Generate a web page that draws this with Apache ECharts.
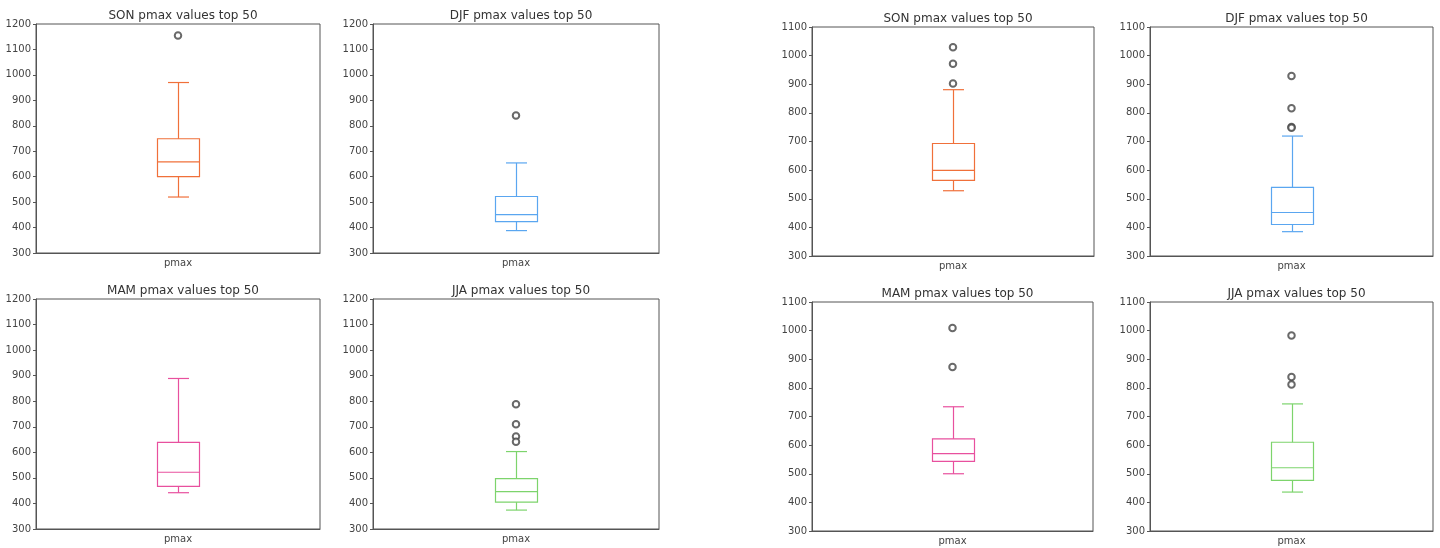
<!DOCTYPE html>
<html>
<head>
<meta charset="utf-8">
<script src="https://cdn.jsdelivr.net/npm/echarts@6/dist/echarts.min.js"></script>
<style>
  html, body { margin: 0; padding: 0; background: #fff; }
  #main { width: 1440px; height: 548px; }
</style>
</head>
<body>
<div id="main"></div>
<script>
// categories and tick settings
var category = ['pmax'];
var yMin = 300;
var yMaxLeft = 1200;
var yMaxRight = 1100;
var yStep = 100;

// box stats: [low whisker, Q1, median, Q3, high whisker]
var sonLeftBox = [520, 600, 658, 749, 970];
var djfLeftBox = [388, 423, 451, 522, 654];
var mamLeftBox = [442, 467, 522, 639, 889];
var jjaLeftBox = [374, 405, 446, 497, 603];
var sonRightBox = [528, 564, 599, 693, 881];
var djfRightBox = [385, 410, 452, 540, 719];
var mamRightBox = [500, 543, 570, 622, 734];
var jjaRightBox = [436, 477, 521, 610, 744];

// outliers
var sonLeftOut = [1155];
var djfLeftOut = [840];
var mamLeftOut = [];
var jjaLeftOut = [788, 710, 662, 641];
var sonRightOut = [1029, 972, 903];
var djfRightOut = [929, 816, 751, 748];
var mamRightOut = [1009, 873];
var jjaRightOut = [983, 838, 812];

var colors = {SON: '#f0703a', DJF: '#5aa6f0', MAM: '#e8509e', JJA: '#7dd46c'};

// panel layout (left, top, width, height)
var panels = [
    {s: 'SON', box: sonLeftBox, out: sonLeftOut, max: yMaxLeft, l: 36, t: 24, w: 284, h: 229},
    {s: 'DJF', box: djfLeftBox, out: djfLeftOut, max: yMaxLeft, l: 373, t: 24, w: 286, h: 229},
    {s: 'MAM', box: mamLeftBox, out: mamLeftOut, max: yMaxLeft, l: 36, t: 299, w: 284, h: 230},
    {s: 'JJA', box: jjaLeftBox, out: jjaLeftOut, max: yMaxLeft, l: 373, t: 299, w: 286, h: 230},
    {s: 'SON', box: sonRightBox, out: sonRightOut, max: yMaxRight, l: 812, t: 27, w: 282, h: 229},
    {s: 'DJF', box: djfRightBox, out: djfRightOut, max: yMaxRight, l: 1150, t: 27, w: 283, h: 229},
    {s: 'MAM', box: mamRightBox, out: mamRightOut, max: yMaxRight, l: 812, t: 302, w: 281, h: 229},
    {s: 'JJA', box: jjaRightBox, out: jjaRightOut, max: yMaxRight, l: 1150, t: 302, w: 283, h: 229}
];

var font = 'DejaVu Sans';
var boxW = 42;

function renderBox(params, api) {
    var x = api.value(0);
    var lo = api.coord([x, api.value(1)]);
    var q1 = api.coord([x, api.value(2)]);
    var md = api.coord([x, api.value(3)]);
    var q3 = api.coord([x, api.value(4)]);
    var hi = api.coord([x, api.value(5)]);
    var cx = Math.round(lo[0]) + 0.5;
    var half = boxW / 2, cap = boxW / 4;
    var st = {stroke: api.visual('color'), lineWidth: 1.2, fill: null};
    function seg(x1, y1, x2, y2) {
        return {type: 'line', shape: {x1: x1, y1: y1, x2: x2, y2: y2}, style: st};
    }
    return {
        type: 'group',
        children: [
            {type: 'rect', shape: {x: cx - half, y: q3[1], width: boxW, height: q1[1] - q3[1]}, style: st},
            seg(cx - half, md[1], cx + half, md[1]),
            seg(cx, q3[1], cx, hi[1]),
            seg(cx, q1[1], cx, lo[1]),
            seg(cx - cap, hi[1], cx + cap, hi[1]),
            seg(cx - cap, lo[1], cx + cap, lo[1])
        ]
    };
}

var option = {
    backgroundColor: '#fff',
    animation: false,
    title: [],
    grid: [],
    xAxis: [],
    yAxis: [],
    series: []
};

panels.forEach(function (p, i) {
    option.title.push({
        text: p.s + ' pmax values top 50',
        left: p.l + p.w / 2,
        top: p.t - 19,
        textAlign: 'center',
        textStyle: {fontFamily: font, fontSize: 12, fontWeight: 'normal', color: '#333'}
    });
    option.grid.push({
        left: p.l, top: p.t, width: p.w, height: p.h,
        show: true, borderColor: '#555', borderWidth: 1, backgroundColor: '#fff'
    });
    option.xAxis.push({
        type: 'category',
        gridIndex: i,
        data: category,
        axisLine: {lineStyle: {color: '#555'}},
        axisTick: {alignWithLabel: true, length: 3, lineStyle: {color: '#555'}},
        axisLabel: {fontFamily: font, fontSize: 10, color: '#444', margin: 5},
        splitLine: {show: false}
    });
    option.yAxis.push({
        type: 'value',
        gridIndex: i,
        min: yMin,
        max: p.max,
        interval: yStep,
        axisLine: {show: true, lineStyle: {color: '#555'}},
        axisTick: {show: true, length: 3, lineStyle: {color: '#555'}},
        axisLabel: {
            fontFamily: font, fontSize: 10, color: '#444', margin: 5,
            formatter: function (v) { return String(v); }
        },
        splitLine: {show: false}
    });
    option.series.push({
        type: 'custom',
        xAxisIndex: i,
        yAxisIndex: i,
        itemStyle: {color: colors[p.s]},
        renderItem: renderBox,
        encode: {x: 0, y: [1, 2, 3, 4, 5]},
        data: [[0].concat(p.box)],
        z: 3
    });
    option.series.push({
        type: 'scatter',
        xAxisIndex: i,
        yAxisIndex: i,
        symbol: 'emptyCircle',
        symbolSize: 6.5,
        itemStyle: {color: '#444', borderColor: '#444', borderWidth: 1},
        data: p.out.map(function (v) { return [0, v]; }),
        z: 4
    });
});

var chart = echarts.init(document.getElementById('main'));
chart.setOption(option);
</script>
</body>
</html>
